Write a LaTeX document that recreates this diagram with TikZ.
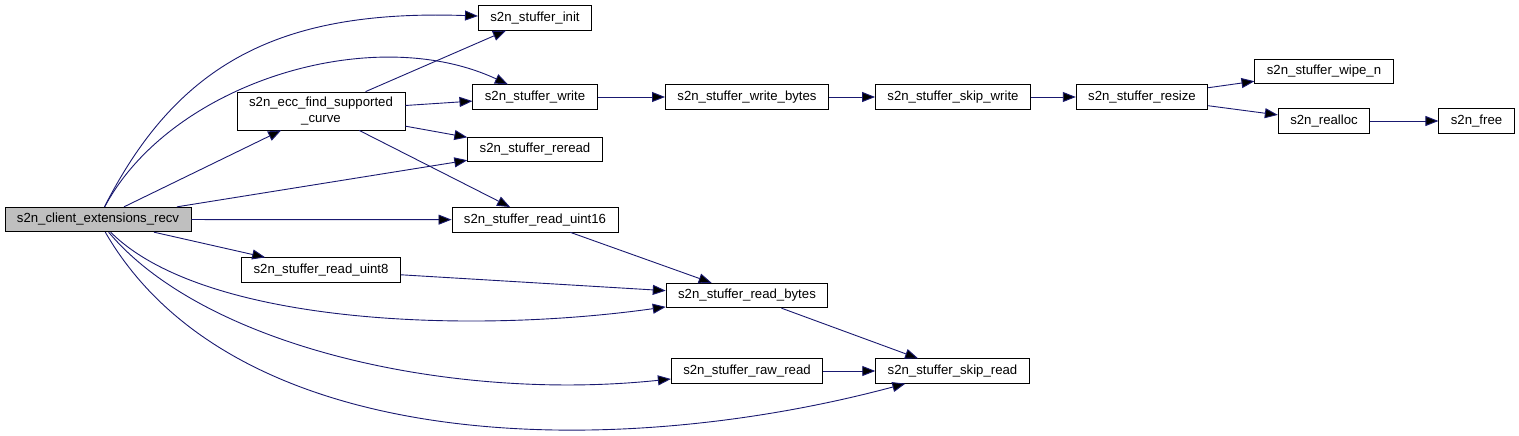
\documentclass[tikz,border=0pt]{standalone}
\usepackage{fontspec}
\setmainfont{Liberation Sans}
\usetikzlibrary{arrows.meta}
\definecolor{callblue}{HTML}{191970}
\definecolor{rootgray}{HTML}{BFBFBF}
\tikzset{
  fn/.style={draw=black,line width=0.8pt,fill=white,minimum height=24.5pt,
    inner xsep=12pt,inner ysep=4pt,font=\fontsize{13.2}{15.5}\selectfont},
}

\begin{document}
\begin{tikzpicture}[x=1pt,y=1pt,>={Triangle[length=13pt,width=10pt]},
   call/.style={->,draw=callblue,line width=0.9pt},
   root/.style={fn,fill=rootgray}]
\useasboundingbox (0,0) rectangle (1519,-436);
% Funktionen
\node[root] (recv) at (98,-219.5) {s2n\_client\_extensions\_recv};
\node[fn,align=center,minimum height=38pt] (ecc) at (321,-111) {s2n\_ecc\_find\_supported\\\_curve};
\node[fn] (init) at (535,-18) {s2n\_stuffer\_init};
\node[fn] (write) at (535,-97) {s2n\_stuffer\_write};
\node[fn] (reread) at (535,-149.5) {s2n\_stuffer\_reread};
\node[fn] (uint16) at (535,-219.7) {s2n\_stuffer\_read\_uint16};
\node[fn] (uint8) at (321,-270) {s2n\_stuffer\_read\_uint8};
\node[fn] (wbytes) at (747,-97) {s2n\_stuffer\_write\_bytes};
\node[fn] (skipwrite) at (953,-97) {s2n\_stuffer\_skip\_write};
\node[fn] (resize) at (1142,-97) {s2n\_stuffer\_resize};
\node[fn] (wipe) at (1324,-71.5) {s2n\_stuffer\_wipe\_n};
\node[fn] (realloc) at (1324,-121) {s2n\_realloc};
\node[fn] (free) at (1476.5,-121) {s2n\_free};
\node[fn] (rbytes) at (747,-295.5) {s2n\_stuffer\_read\_bytes};
\node[fn] (rawread) at (747,-371) {s2n\_stuffer\_raw\_read};
\node[fn] (skipread) at (952.5,-371) {s2n\_stuffer\_skip\_read};
% Aufrufe von recv
\path[call] (recv) edge[out=63,in=178,out distance=160pt,in distance=200pt] (init)
      (recv) edge[out=62,in=155,out distance=140pt,in distance=150pt] (write)
      (recv) edge (ecc)
      (recv) edge (reread)
      (recv) edge (uint16)
      (recv) edge (uint8)
      (recv) edge[out=-45,in=188,out distance=130pt,in distance=200pt] (rbytes)
      (recv) edge[out=-50,in=186,out distance=150pt,in distance=220pt] (rawread)
      (recv) edge[out=-60,in=195,out distance=260pt,in distance=300pt] (skipread);
% weitere Aufrufe
\path[call] (ecc) edge (init)
      (ecc) edge (write)
      (ecc) edge (reread)
      (ecc) edge (uint16)
      (write) edge (wbytes)
      (wbytes) edge (skipwrite)
      (skipwrite) edge (resize)
      (resize) edge (wipe)
      (resize) edge (realloc)
      (realloc) edge (free)
      (uint16) edge (rbytes)
      (uint8) edge (rbytes)
      (rbytes) edge (skipread)
      (rawread) edge (skipread);
\end{tikzpicture}
\end{document}
